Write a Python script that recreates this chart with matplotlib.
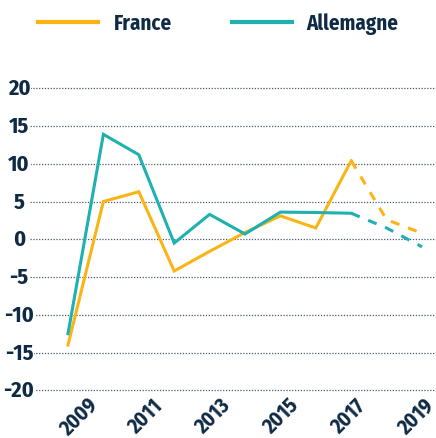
import matplotlib.pyplot as plt

years = [2009, 2010, 2011, 2012, 2013, 2014, 2015, 2016, 2017, 2018, 2019]
france = [-14.0, 5.0, 6.3, -4.2, -1.6, 0.9, 3.1, 1.5, 10.4, 2.6, 0.8]
allemagne = [-12.5, 13.9, 11.2, -0.5, 3.3, 0.7, 3.6, 3.55, 3.45, 1.5, -1.0]
n_obs = 9  # 2009-2017 observed, then forecast (dashed)

yticks = [20, 15, 10, 5, 0, -5, -10, -15, -20]
xlabels = [2009, 2011, 2013, 2015, 2017, 2019]

orange = '#fbb415'
teal = '#1fb1af'
navy = '#0f2a44'
font = ['Fira Sans Condensed', 'Barlow Semi Condensed', 'DejaVu Sans']

fig = plt.figure(figsize=[4.36, 4.39], dpi=100)
ax = fig.add_axes([30 / 436, 39 / 439, 406 / 436, 320 / 439])
ax.set_xlim(2007.927, 2019.395)
ax.set_ylim(-21.15, 21.23)
for s in ax.spines.values():
    s.set_visible(False)
ax.set_xticks([])
ax.set_yticks([])

for v in yticks:
    ax.axhline(v, color='#4a5868', lw=0.9, ls=(0, (1, 1.3)), zorder=1)
    ax.text(-0.027, v, str(v), transform=ax.get_yaxis_transform(), ha='center', va='center',
            fontsize=16, fontweight='bold', color=navy, family=font,
            bbox=dict(facecolor='white', edgecolor='none', pad=0.5), zorder=3)

# solid part
ax.plot(years[:n_obs], france[:n_obs], color=orange, lw=2.2, zorder=2, solid_joinstyle='miter')
ax.plot(years[:n_obs], allemagne[:n_obs], color=teal, lw=2.2, zorder=2, solid_joinstyle='miter')
# forecast part
ax.plot(years[n_obs - 1:], france[n_obs - 1:], color=orange, lw=2.2, ls=(0, (3, 3)), zorder=2)
ax.plot(years[n_obs - 1:], allemagne[n_obs - 1:], color=teal, lw=2.2, ls=(6, (3, 3)), zorder=2)

# year labels, rotated
for y in xlabels:
    xl = 2015 + (y - 2015) * 0.952
    ax.text(xl, -0.052, str(y), transform=ax.get_xaxis_transform(), ha='center', va='center',
            rotation=45, rotation_mode='anchor', fontsize=15, fontweight='bold',
            color=navy, family=font)

h1, = ax.plot([], [], color=orange, lw=3)
h2, = ax.plot([], [], color=teal, lw=3)
leg = fig.legend([h1, h2], ['France', 'Allemagne'], loc='center', bbox_to_anchor=(0.501, 0.945),
                 ncol=2, frameon=False, handlelength=2.88, handletextpad=0.72, columnspacing=2.88,
                 prop=dict(family=font, weight='bold', size=15))
for t in leg.get_texts():
    t.set_color(navy)

fig.savefig('out.png', dpi=100)
